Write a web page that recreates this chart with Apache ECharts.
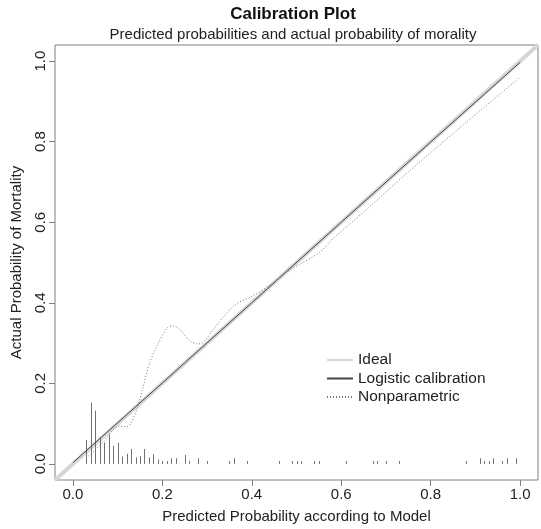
<!DOCTYPE html>
<html>
<head>
<meta charset="utf-8">
<script src="https://cdn.jsdelivr.net/npm/echarts@6/dist/echarts.min.js"></script>
<style>html,body{margin:0;padding:0;background:#fff}#chart{width:541px;height:529px}</style>
</head>
<body>
<div id="chart"></div>
<script>
var tickValues = [0, 0.2, 0.4, 0.6, 0.8, 1.0];
var idealX = [-0.04, 1.04];
var idealY = [-0.04, 1.04];
var logisticX = [0.0, 0.2, 0.4, 0.6, 0.8, 1.0];
var logisticY = [0.003, 0.201, 0.4, 0.6, 0.799, 0.997];
var nonparamX = [0.03, 0.05, 0.07, 0.09, 0.105, 0.12, 0.13, 0.145, 0.157, 0.171, 0.19, 0.212, 0.223, 0.238, 0.261, 0.279, 0.29, 0.312, 0.342, 0.365, 0.402, 0.446, 0.476, 0.506, 0.55, 0.583, 0.65, 0.75, 0.85, 0.93, 1.0];
var nonparamY = [0.015, 0.035, 0.058, 0.084, 0.094, 0.092, 0.101, 0.142, 0.191, 0.249, 0.298, 0.339, 0.343, 0.335, 0.306, 0.298, 0.300, 0.331, 0.372, 0.397, 0.417, 0.448, 0.475, 0.495, 0.524, 0.561, 0.625, 0.725, 0.82, 0.895, 0.96];
var spikeX = [0.03,0.04,0.05,0.06,0.07,0.08,0.09,0.10,0.11,0.12,0.13,0.14,0.15,0.16,0.17,0.18,0.19,0.20,0.21,0.22,0.23,0.25,0.26,0.28,0.30,0.35,0.36,0.39,0.46,0.49,0.50,0.51,0.54,0.55,0.61,0.67,0.68,0.70,0.73,0.88,0.91,0.92,0.93,0.94,0.96,0.97,0.99];
var spikeH = [0.059,0.152,0.132,0.066,0.053,0.073,0.045,0.052,0.018,0.025,0.037,0.016,0.02,0.037,0.016,0.024,0.011,0.007,0.007,0.014,0.014,0.022,0.007,0.014,0.007,0.007,0.014,0.007,0.007,0.007,0.007,0.007,0.007,0.007,0.007,0.007,0.007,0.007,0.007,0.007,0.014,0.007,0.007,0.014,0.007,0.014,0.014];

function zip(a, b) { return a.map(function (v, i) { return [v, b[i]]; }); }

var font = 'Liberation Sans, Arial, Helvetica, sans-serif';
var chart = echarts.init(document.getElementById('chart'));
var axisCommon = {
  type: 'value', min: -0.04, max: 1.04,
  axisLine: { show: false, onZero: false },
  splitLine: { show: false },
  axisTick: { show: true, inside: false, length: 6, customValues: tickValues, lineStyle: { color: '#7f7f7f', width: 1 } },
  axisLabel: { customValues: tickValues, fontSize: 15, fontFamily: font, color: '#222', margin: 7,
    formatter: function (v) { return v.toFixed(1); } },
  nameLocation: 'middle',
  nameTextStyle: { fontSize: 15, fontFamily: font, color: '#222' }
};
var option = {
  animation: false,
  backgroundColor: '#fff',
  title: [
    { text: 'Calibration Plot', left: 288, top: 1, textAlign: 'center',
      textStyle: { fontSize: 17, fontWeight: 'bold', fontFamily: font, color: '#111' } },
    { text: 'Predicted probabilities and actual probability of morality', left: 288, top: 22, textAlign: 'center',
      textStyle: { fontSize: 15, fontWeight: 'normal', fontFamily: font, color: '#222' } }
  ],
  grid: { left: 55, right: 3, top: 45, bottom: 46, show: true, borderColor: '#7f7f7f', borderWidth: 1, backgroundColor: 'transparent' },
  xAxis: Object.assign({}, axisCommon, { name: 'Predicted Probability according to Model', nameGap: 29 }),
  yAxis: Object.assign({}, axisCommon, {
    name: 'Actual Probability of Mortality', nameGap: 31,
    axisLabel: Object.assign({}, axisCommon.axisLabel, { rotate: 90 })
  }),
  legend: {
    orient: 'vertical', left: 321, top: 347, itemWidth: 26, itemHeight: 10, itemGap: 2.5,
    itemStyle: { opacity: 0 },
    textStyle: { fontSize: 15.5, fontFamily: font, color: '#222' },
    data: ['Ideal', 'Logistic calibration', 'Nonparametric']
  },
  series: [
    { name: 'Ideal', type: 'line', data: zip(idealX, idealY), showSymbol: false, symbol: 'none',
      lineStyle: { color: '#d6d6d6', width: 4 }, itemStyle: { color: '#d6d6d6' }, z: 1 },
    { name: 'Logistic calibration', type: 'line', data: zip(logisticX, logisticY), showSymbol: false, symbol: 'none',
      lineStyle: { color: '#444', width: 1 }, itemStyle: { color: '#444' }, z: 3 },
    { name: 'Nonparametric', type: 'line', data: zip(nonparamX, nonparamY), showSymbol: false, symbol: 'none', smooth: 0.3,
      lineStyle: { color: '#777', width: 1, type: [1, 2] }, itemStyle: { color: '#777' }, z: 4 },
    { name: 'spikes', type: 'custom', data: zip(spikeX, spikeH), z: 2,
      renderItem: function (params, api) {
        var p0 = api.coord([api.value(0), 0]);
        var p1 = api.coord([api.value(0), api.value(1)]);
        return { type: 'line', shape: { x1: Math.round(p0[0]) + 0.5, y1: p0[1], x2: Math.round(p0[0]) + 0.5, y2: p1[1] },
          style: { stroke: '#707070', lineWidth: 1 } };
      } }
  ]
};
chart.setOption(option);
</script>
</body>
</html>
